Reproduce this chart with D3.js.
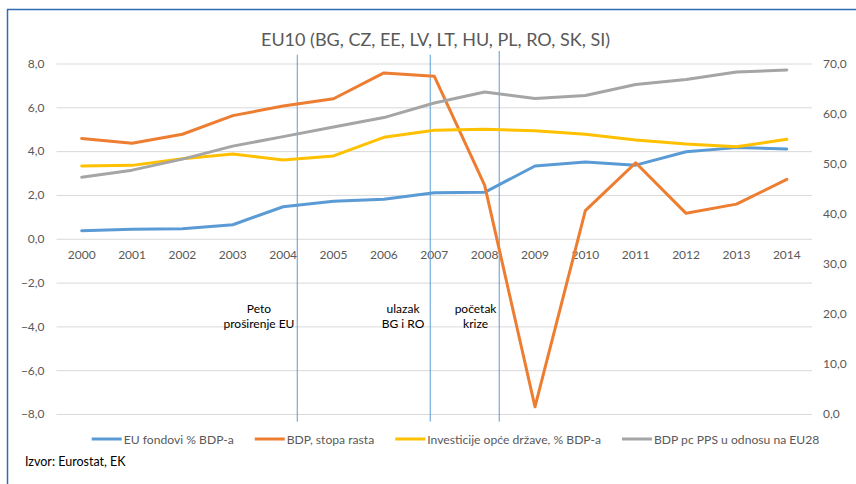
<!DOCTYPE html>
<html>
<head>
<meta charset="utf-8">
<script src="https://cdn.jsdelivr.net/npm/d3@7"></script>
<style>
  body { margin: 0; background: #fff; }
  svg text { font-family: Lato, "Open Sans", sans-serif; }
</style>
</head>
<body>
<div id="chart"></div>
<script>
const WIDTH  = 856;
const HEIGHT = 484;

// data
var years       = [2000, 2001, 2002, 2003, 2004, 2005, 2006, 2007, 2008, 2009, 2010, 2011, 2012, 2013, 2014];
var euFunds     = [0.37, 0.43, 0.46, 0.64, 1.46, 1.71, 1.80, 2.10, 2.12, 3.32, 3.50, 3.36, 3.97, 4.16, 4.10];
var gdpGrowth   = [4.58, 4.36, 4.77, 5.62, 6.06, 6.39, 7.57, 7.42, 2.45, -7.67, 1.28, 3.47, 1.16, 1.58, 2.71];
var govInvest   = [3.32, 3.35, 3.65, 3.87, 3.59, 3.78, 4.63, 4.95, 5.00, 4.93, 4.77, 4.51, 4.32, 4.20, 4.54];
var gdpPcPps    = [47.3, 48.7, 50.9, 53.5, 55.4, 57.3, 59.2, 62.1, 64.3, 63.0, 63.6, 65.8, 66.8, 68.3, 68.7];

var seriesNames = ["EU fondovi % BDP-a", "BDP, stopa rasta", "Investicije opće države, % BDP-a", "BDP pc PPS u odnosu na EU28"];
var leftTicks   = [-8, -6, -4, -2, 0, 2, 4, 6, 8];
var rightTicks  = [0, 10, 20, 30, 40, 50, 60, 70];

// vertical event markers (fractional year, top value on left axis)
var markerYears = [2004.28, 2006.92, 2008.29];
var markerTops  = [8.4, 8.4, 8.57];
var markerBottom = -8.35;
var noteLines   = [["Peto", "proširenje EU"], ["ulazak", "BG i RO"], ["početak", "krize"]];
var noteYears   = [2003.52, 2006.38, 2007.82];
var noteValue   = -3.2;

var title  = "EU10 (BG, CZ, EE, LV, LT, HU, PL, RO, SK, SI)";
var source = "Izvor: Eurostat, EK";

const COLORS = ["#5B9BD5", "#ED7D31", "#FFC000", "#A5A5A5"];
const PLOT_LEFT = 56.5, PLOT_RIGHT = 812, PLOT_TOP = 63.5, PLOT_BOTTOM = 414;

var hr = d3.formatLocale({decimal: ",", thousands: ".", grouping: [3], currency: ["", ""]});
var fmt = hr.format(".1f");

var svg = d3.select("#chart")
            .append("svg")
            .attr("width", WIDTH)
            .attr("height", HEIGHT);

// frame
svg.append("path")
   .attr("d", "M7.5," + HEIGHT + "V9.5H" + WIDTH)
   .attr("fill", "none")
   .attr("stroke", "#2E6DB4")
   .attr("stroke-width", 1.5);

var xBand = d3.scaleBand()
              .domain(years)
              .range([PLOT_LEFT, PLOT_RIGHT]);
var xYear = d3.scaleLinear()
              .domain([years[0], years[years.length - 1]])
              .range([xBand(years[0]) + xBand.bandwidth() / 2, xBand(years[years.length - 1]) + xBand.bandwidth() / 2]);
var yLeft = d3.scaleLinear().domain([-8, 8]).range([PLOT_BOTTOM, PLOT_TOP]);
var yRight = d3.scaleLinear().domain([0, 70]).range([PLOT_BOTTOM, PLOT_TOP]);

// left axis + gridlines
var gLeft = svg.append("g")
   .attr("transform", "translate(" + PLOT_LEFT + ",0)")
   .call(d3.axisLeft(yLeft).tickValues(leftTicks).tickFormat(fmt)
           .tickSize(-(PLOT_RIGHT - PLOT_LEFT)).tickPadding(12));
gLeft.select(".domain").remove();
gLeft.selectAll("line").attr("stroke", "#D9D9D9");
gLeft.selectAll("text").attr("fill", "#595959").style("font-size", "12px");

// right axis
var gRight = svg.append("g")
   .attr("transform", "translate(" + PLOT_RIGHT + ",0)")
   .call(d3.axisRight(yRight).tickValues(rightTicks).tickFormat(fmt).tickSize(0).tickPadding(11));
gRight.select(".domain").remove();
gRight.selectAll("text").attr("fill", "#595959").style("font-size", "12px");

// x axis at zero
var gX = svg.append("g")
   .attr("transform", "translate(0," + yLeft(0) + ")")
   .call(d3.axisBottom(xBand).tickSize(0).tickPadding(12));
gX.select(".domain").remove();
gX.selectAll("text").attr("fill", "#595959").style("font-size", "12px");

// event markers
svg.selectAll(".marker")
   .data(markerYears)
   .enter()
   .append("line")
   .attr("class", "marker")
   .attr("x1", d => xYear(d))
   .attr("x2", d => xYear(d))
   .attr("y1", (d, i) => yLeft(markerTops[i]))
   .attr("y2", yLeft(markerBottom))
   .attr("stroke", "#5B9BD5")
   .attr("stroke-width", 1);

// series
var allSeries = [
    {values: euFunds,   y: yLeft},
    {values: gdpGrowth, y: yLeft},
    {values: govInvest, y: yLeft},
    {values: gdpPcPps,  y: yRight}
];
allSeries.forEach(function(s, i) {
    var line = d3.line()
                 .x((d, j) => xBand(years[j]) + xBand.bandwidth() / 2)
                 .y(d => s.y(d));
    svg.append("path")
       .datum(s.values)
       .attr("d", line)
       .attr("fill", "none")
       .attr("stroke", COLORS[i])
       .attr("stroke-width", 3)
       .attr("stroke-linejoin", "round")
       .attr("stroke-linecap", "round");
});

// notes
noteLines.forEach(function(lines, i) {
    var t = svg.append("text")
               .attr("text-anchor", "middle")
               .attr("fill", "#000")
               .style("font-size", "12px")
               .attr("x", xYear(noteYears[i]))
               .attr("y", yLeft(noteValue) + 4);
    lines.forEach(function(l, k) {
        t.append("tspan")
         .attr("x", xYear(noteYears[i]))
         .attr("dy", k === 0 ? 0 : 15)
         .text(l);
    });
});

// title
svg.append("text")
   .attr("x", 435.5)
   .attr("y", 46)
   .attr("text-anchor", "middle")
   .attr("fill", "#595959")
   .style("font-size", "18px")
   .text(title);

// legend
var legend = svg.append("g").attr("transform", "translate(0,439)");
var lx = 91.7;
seriesNames.forEach(function(name, i) {
    legend.append("line")
          .attr("x1", lx).attr("x2", lx + 30)
          .attr("y1", 0).attr("y2", 0)
          .attr("stroke", COLORS[i])
          .attr("stroke-width", 3);
    var t = legend.append("text")
          .attr("x", lx + 32)
          .attr("y", 4.5)
          .attr("fill", "#595959")
          .style("font-size", "12.15px")
          .text(name);
    lx += 32 + t.node().getComputedTextLength() + 21;
});

// source
svg.append("text")
   .attr("x", 25)
   .attr("y", 466)
   .attr("fill", "#000")
   .style("font-size", "12.5px")
   .text(source);
</script>
</body>
</html>
